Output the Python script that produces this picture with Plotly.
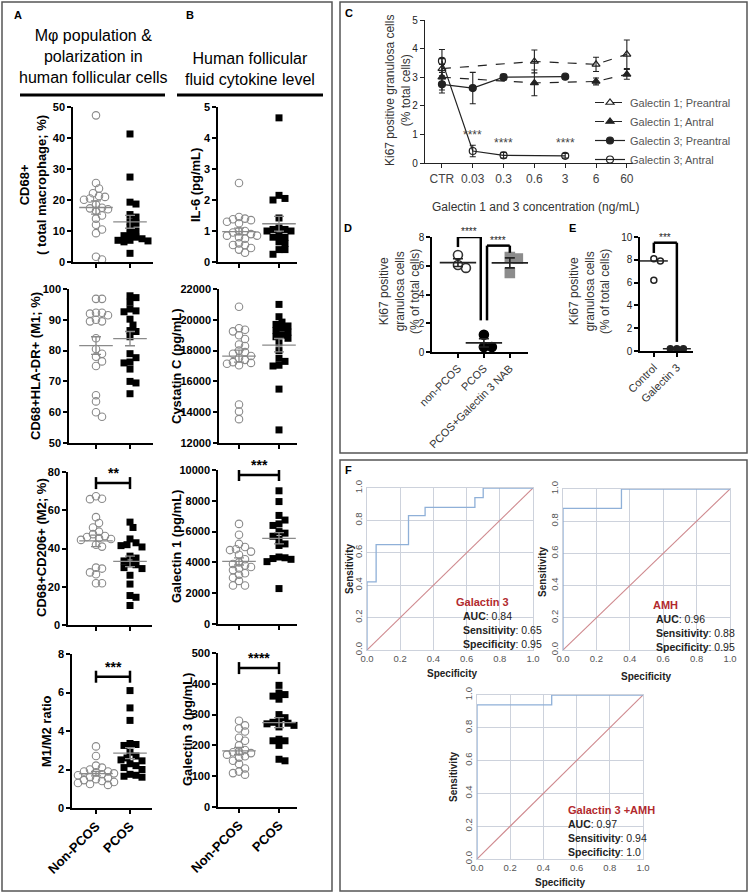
import numpy as np
import plotly.graph_objects as go

W, H = 750, 895
SANS = "Liberation Sans, Arial, sans-serif"

# ---------------- data ----------------
groups = ["Non-PCOS", "PCOS"]

cd68_non = [47.3, 25.5, 23.7, 22.2, 21.3, 21.0, 20.5, 20.1, 18.5, 17.5, 17.3, 17.0, 16.5, 15.0, 14.0, 12.0, 10.5, 9.3, 1.7, 0.8]
cd68_pcos = [41.3, 27.4, 19.3, 18.7, 15.3, 14.5, 13.0, 12.5, 11.0, 10.0, 9.0, 8.5, 8.0, 7.5, 7.0, 7.0, 6.8, 6.5, 2.8]

m1_non = [96.8, 96.8, 92.3, 92.3, 92.0, 91.5, 90.0, 89.5, 89.5, 84.0, 80.5, 79.0, 78.0, 76.5, 75.0, 65.5, 63.5, 60.0, 58.5]
m1_pcos = [97.8, 97.2, 95.7, 93.5, 92.9, 92.6, 90.2, 88.3, 86.5, 86.2, 84.5, 79.0, 77.7, 76.3, 76.0, 74.0, 70.0, 69.5, 66.0]

m2_non = [67.3, 66.0, 65.8, 56.4, 53.3, 51.0, 48.8, 47.5, 46.5, 46.0, 45.5, 45.0, 44.5, 42.0, 41.0, 30.0, 29.5, 27.5, 26.5, 21.8, 21.8]
m2_pcos = [53.8, 51.0, 45.0, 43.0, 42.0, 41.5, 40.8, 36.0, 35.0, 33.5, 32.0, 31.5, 30.0, 29.5, 26.0, 21.4, 15.4, 14.5, 10.2]

ratio_non = [3.2, 2.7, 2.2, 2.1, 2.0, 1.9, 1.9, 1.85, 1.8, 1.75, 1.7, 1.6, 1.55, 1.5, 1.45, 1.4, 1.35, 1.3, 1.25, 1.2]
ratio_pcos = [6.1, 5.2, 4.55, 3.35, 3.3, 3.25, 2.9, 2.7, 2.6, 2.5, 2.45, 2.3, 2.2, 2.1, 2.0, 1.75, 1.7, 1.65, 1.6]

il6_non = [2.55, 1.45, 1.4, 1.38, 1.35, 1.3, 1.25, 1.0, 1.0, 0.95, 0.9, 0.85, 0.85, 0.8, 0.75, 0.6, 0.55, 0.55, 0.45, 0.4, 0.3]
il6_pcos = [4.65, 2.15, 2.05, 2.0, 1.42, 1.1, 1.05, 1.05, 1.0, 1.0, 0.85, 0.8, 0.8, 0.65, 0.6, 0.4, 0.4, 0.25]

cys_non = [20850, 19450, 19350, 19250, 19000, 18750, 18400, 18300, 18000, 17900, 17800, 17650, 17500, 17400, 17250, 17200, 17150, 17050, 14500, 14050, 13550]
cys_pcos = [21000, 20200, 19850, 19700, 19600, 19450, 19300, 19200, 19000, 18900, 18800, 18500, 18000, 17500, 17300, 17050, 17000, 15500, 12850]

gal1_non = [6500, 5800, 5200, 5000, 4850, 4800, 4700, 4500, 4200, 4000, 3900, 3800, 3700, 3600, 3500, 3300, 3200, 3000, 2800, 2500, 2500]
gal1_pcos = [8650, 7950, 7050, 6750, 6500, 6400, 6000, 5900, 5700, 5500, 5200, 5100, 4350, 4300, 4250, 4200, 4050, 2300]

gal3_non = [280, 265, 255, 245, 225, 215, 200, 185, 180, 178, 175, 170, 165, 160, 150, 140, 125, 115, 110, 105]
gal3_pcos = [395, 370, 365, 360, 350, 300, 290, 280, 275, 272, 270, 265, 260, 220, 215, 215, 200, 155, 150]

# panel C
conc_labels = ["CTR", "0.03", "0.3", "0.6", "3", "6", "60"]
g1_conc = ["CTR", "0.6", "6", "60"]
g1_pre = [3.3, 3.55, 3.45, 3.8]
g1_pre_err = [0.35, 0.4, 0.25, 0.5]
g1_ant = [3.0, 2.8, 2.85, 3.1]
g1_ant_err = [0.45, 0.45, 0.12, 0.17]
g3_conc = ["CTR", "0.03", "0.3", "3"]
g3_pre = [2.75, 2.62, 3.0, 3.02]
g3_pre_err = [0.3, 0.55, 0.1, 0.0]
g3_ant = [3.57, 0.42, 0.27, 0.25]
g3_ant_err = [0.4, 0.2, 0.1, 0.08]
c_stars = ["0.03", "0.3", "3"]
c_star_y = [0.98, 0.7, 0.7]

# panel D
d_groups = ["non-PCOS", "PCOS", "PCOS+Galectin 3 NAB"]
d_non = [6.75, 6.05, 5.85]
d_pcos = [1.2, 0.35, 0.35]
d_nab = [6.6, 6.5, 5.5]

# panel E
e_groups = ["Control", "Galectin 3"]
e_ctrl = [8.1, 7.9, 6.2]
e_gal3 = [0.2, 0.2, 0.2]

# panel F
f1_fpr = [0, 0, 0.055, 0.25, 0.35, 0.65, 0.70, 1.0]
f1_tpr = [0, 0.42, 0.65, 0.83, 0.88, 0.94, 1.0, 1.0]
f2_fpr = [0, 0, 0.35, 1.0]
f2_tpr = [0, 0.88, 1.0, 1.0]
f3_fpr = [0, 0, 0.45, 1.0]
f3_tpr = [0, 0.94, 1.0, 1.0]

fig = go.Figure()
axes = {}
annots = []
shapes = []


def P(x, y):
    return x / W, 1 - y / H


def add_axes(n, xpx, ypx, xa, ya):
    s = "" if n == 1 else str(n)
    axes["xaxis" + s] = dict(domain=[xpx[0] / W, xpx[1] / W], anchor="y" + s, **xa)
    axes["yaxis" + s] = dict(domain=[1 - ypx[1] / H, 1 - ypx[0] / H], anchor="x" + s, **ya)
    return "x" + s, "y" + s


def base_axis(**kw):
    d = dict(showline=True, linecolor="black", linewidth=1.5, ticks="outside", ticklen=4,
             tickwidth=1.5, tickcolor="black", showgrid=False, zeroline=False, fixedrange=True)
    d.update(kw)
    return d


def swarm(values, ymin, ymax, hpx, unit_px, diam=6.0):
    # simple beeswarm: dodge overlapping markers sideways
    vals = np.asarray(values, float)
    ypix = (vals - ymin) / (ymax - ymin) * hpx
    offs = np.zeros(len(vals))
    placed = []
    for i in np.argsort(-vals):
        for k in range(60):
            m = (k + 1) // 2
            cand = m * diam * 0.5 * (1 if k % 2 else -1)
            if all((cand - px) ** 2 + (ypix[i] - py) ** 2 >= diam ** 2 for px, py in placed):
                break
        placed.append((cand, ypix[i]))
        offs[i] = cand / unit_px
    return offs


def ytitle(text, x, y, size=13, bold=True, color="black"):
    xx, yy = P(x, y)
    annots.append(dict(text=text, x=xx, y=yy, xref="paper", yref="paper", textangle=-90,
                       showarrow=False, xanchor="center", yanchor="middle",
                       font=dict(family=SANS, size=size, color=color, weight="bold" if bold else "normal")))


def text(t, x, y, size=12, color="black", xanchor="center", yanchor="middle", bold=False):
    xx, yy = P(x, y)
    annots.append(dict(text=t, x=xx, y=yy, xref="paper", yref="paper", showarrow=False,
                       xanchor=xanchor, yanchor=yanchor,
                       font=dict(family=SANS, size=size, color=color, weight="bold" if bold else "normal")))


def stars_at(t, x, y, xr, yr, size, color, bold=False, shift=0):
    annots.append(dict(text=t, x=x, y=y, xref=xr, yref=yr, showarrow=False, yanchor="bottom", yshift=shift,
                       font=dict(family=SANS, size=size, color=color, weight="bold" if bold else "normal")))


def mean_sem(vals):
    v = np.asarray(vals, float)
    return v.mean(), v.std(ddof=1) / np.sqrt(len(v))


# ---------------- panels A & B ----------------
ab_panels = [
    dict(non=cd68_non, pcos=cd68_pcos, yr=[0, 50], dt=10, title="CD68+<br>( total macrophage; %)",
         xpx=(73, 153), ypx=(107, 262), tx=(96, 130), tpos=(33, 185), sig=None, bottom=False),
    dict(non=m1_non, pcos=m1_pcos, yr=[50, 100], dt=10, title="CD68+HLA-DR+ (M1; %)",
         xpx=(69, 153), ypx=(289, 443), tx=(96, 130), tpos=(35, 366), sig=None, bottom=False),
    dict(non=m2_non, pcos=m2_pcos, yr=[0, 80], dt=20, title="CD68+CD206+ (M2; %)",
         xpx=(68, 152), ypx=(472, 625), tx=(96, 130), tpos=(41, 548), sig=("**", 74.2), bottom=False),
    dict(non=ratio_non, pcos=ratio_pcos, yr=[0, 8], dt=2, title="M1/M2 ratio",
         xpx=(72, 152), ypx=(654, 808), tx=(96, 130), tpos=(46, 731), sig=("***", 6.82), bottom=True),
    dict(non=il6_non, pcos=il6_pcos, yr=[0, 5], dt=1, title="IL-6 (pg/mL)",
         xpx=(218, 297), ypx=(107, 262), tx=(239, 279), tpos=(195, 185), sig=None, bottom=False),
    dict(non=cys_non, pcos=cys_pcos, yr=[12000, 22000], dt=2000, title="Cystatin C (pg/mL)",
         xpx=(219, 297), ypx=(289, 443), tx=(239, 279), tpos=(176, 366), sig=None, bottom=False),
    dict(non=gal1_non, pcos=gal1_pcos, yr=[0, 10000], dt=2000, title="Galectin 1 (pg/mL)",
         xpx=(218, 297), ypx=(470, 624), tx=(239, 279), tpos=(176, 547), sig=("***", 9675), bottom=False),
    dict(non=gal3_non, pcos=gal3_pcos, yr=[0, 500], dt=100, title="Galectin 3 (pg/mL)",
         xpx=(218, 297), ypx=(653, 807), tx=(239, 279), tpos=(187, 730), sig=("****", 451), bottom=True),
]

for i, p in enumerate(ab_panels):
    n = i + 1
    unit = p["tx"][1] - p["tx"][0]
    x0 = -(p["tx"][0] - p["xpx"][0]) / unit
    x1 = 1 + (p["xpx"][1] - p["tx"][1]) / unit
    xa = base_axis(range=[x0, x1], tickvals=[0, 1], ticktext=groups,
                   showticklabels=p["bottom"], tickangle=-45,
                   tickfont=dict(family=SANS, size=13, color="black", weight="bold"))
    ya = base_axis(range=p["yr"], dtick=p["dt"], tickformat="d",
                   tickfont=dict(family=SANS, size=11, color="black", weight="bold"))
    xr, yr = add_axes(n, p["xpx"], p["ypx"], xa, ya)
    hpx = p["ypx"][1] - p["ypx"][0]
    off_n = swarm(p["non"], p["yr"][0], p["yr"][1], hpx, unit)
    off_p = swarm(p["pcos"], p["yr"][0], p["yr"][1], hpx, unit)
    fig.add_trace(go.Scatter(x=0 + off_n, y=p["non"], mode="markers", xaxis=xr, yaxis=yr,
                             marker=dict(symbol="circle-open", size=7.5, color="#8a8a8a", line=dict(width=1.1)),
                             showlegend=False, cliponaxis=False))
    fig.add_trace(go.Scatter(x=1 + off_p, y=p["pcos"], mode="markers", xaxis=xr, yaxis=yr,
                             marker=dict(symbol="square", size=7, color="black"),
                             showlegend=False, cliponaxis=False))
    ms = [mean_sem(p["non"]), mean_sem(p["pcos"])]
    fig.add_trace(go.Scatter(x=[0, 1], y=[m for m, s in ms], mode="markers", xaxis=xr, yaxis=yr,
                             marker=dict(symbol="line-ew", size=24, line=dict(width=1.3, color="#8a8a8a")),
                             error_y=dict(type="data", array=[s for m, s in ms], width=5, thickness=1.3, color="#8a8a8a"),
                             showlegend=False, cliponaxis=False))
    tx, ty = p["tpos"]
    ytitle(p["title"], tx, ty)
    if p["sig"]:
        stars, by = p["sig"]
        cap = 6 / hpx * (p["yr"][1] - p["yr"][0])
        for seg in ([0, by, 1, by], [0, by - cap, 0, by + cap], [1, by - cap, 1, by + cap]):
            shapes.append(dict(type="line", xref=xr, yref=yr, x0=seg[0], y0=seg[1], x1=seg[2], y1=seg[3],
                               line=dict(color="black", width=2.5)))
        stars_at(stars, 0.5, by, xr, yr, 14, "black", bold=True, shift=0)

# headers
text("Mφ population &amp;<br>polarization in<br>human follicular cells", 93, 57, size=16)
text("Human follicular<br>fluid cytokine level", 250, 69, size=16)
shapes.append(dict(type="line", xref="paper", yref="paper", x0=20 / W, x1=165 / W, y0=1 - 95 / H, y1=1 - 95 / H,
                   line=dict(color="black", width=3)))
shapes.append(dict(type="line", xref="paper", yref="paper", x0=177 / W, x1=323 / W, y0=1 - 95 / H, y1=1 - 95 / H,
                   line=dict(color="black", width=3)))

# ---------------- panel C ----------------
xr, yr = add_axes(9, (425, 633), (20, 163),
                  base_axis(type="category", categoryorder="array", categoryarray=conc_labels, range=[-0.55, 6.2],
                            tickfont=dict(family=SANS, size=12, color="#444"), linewidth=1.2, tickwidth=1.2,
                            linecolor="#222", tickcolor="#222"),
                  base_axis(range=[0, 5], dtick=1, tickfont=dict(family=SANS, size=10, color="#222"),
                            linewidth=1.2, tickwidth=1.2, linecolor="#222", tickcolor="#222"))
c_series = [
    ("Galectin 1; Preantral", g1_conc, g1_pre, g1_pre_err, "triangle-up-open", "dash"),
    ("Galectin 1; Antral", g1_conc, g1_ant, g1_ant_err, "triangle-up", "dash"),
    ("Galectin 3; Preantral", g3_conc, g3_pre, g3_pre_err, "circle", "solid"),
    ("Galectin 3; Antral", g3_conc, g3_ant, g3_ant_err, "circle-open", "solid"),
]
for name, xs, ys, es, sym, dash in c_series:
    fig.add_trace(go.Scatter(x=xs, y=ys, name=name, mode="lines+markers", xaxis=xr, yaxis=yr,
                             line=dict(color="#222", width=1.2, dash=dash),
                             marker=dict(symbol=sym, size=7, color="#222", line=dict(width=1.2, color="#222")),
                             error_y=dict(type="data", array=es, width=3, thickness=1.1, color="#222"),
                             cliponaxis=False))
for c, y in zip(c_stars, c_star_y):
    annots.append(dict(text="****", x=conc_labels.index(c), y=y, xref=xr, yref=yr, showarrow=False,
                       font=dict(family=SANS, size=12, color="#444")))
ytitle("Ki67 positive granulosa cells<br>(% total cells)", 398, 90, size=12, bold=False, color="#333")
text("Galectin 1 and 3 concentration (ng/mL)", 535, 207, size=12, color="#333")

# ---------------- panel D ----------------
xr, yr = add_axes(10, (432, 528), (237, 352),
                  base_axis(range=[-1.0, 2.7], tickvals=[0, 1, 2], ticktext=d_groups, tickangle=-45,
                            tickfont=dict(family=SANS, size=11, color="#333")),
                  base_axis(range=[0, 8], dtick=2, tickfont=dict(family=SANS, size=10, color="#222")))
d_sets = [(0, d_non, "circle-open", "#333"), (1, d_pcos, "circle", "black"), (2, d_nab, "square", "#8c8c8c")]
for xc, vals, sym, col in d_sets:
    off = swarm(vals, 0, 8, 115, 26, diam=8)
    fig.add_trace(go.Scatter(x=xc + off, y=vals, mode="markers", xaxis=xr, yaxis=yr, showlegend=False,
                             marker=dict(symbol=sym, size=9, color=col, line=dict(width=1.6, color=col)),
                             cliponaxis=False))
    m, s = mean_sem(vals)
    fig.add_trace(go.Scatter(x=[xc], y=[m], mode="markers", xaxis=xr, yaxis=yr, showlegend=False,
                             marker=dict(symbol="line-ew", size=26, line=dict(width=1.6, color="#222")),
                             error_y=dict(type="data", array=[s], width=5, thickness=1.6, color="#222"),
                             cliponaxis=False))
for pts in ([(0, 7.3), (0, 8.0), (0.88, 8.0), (0.88, 2.2)], [(1.12, 2.2), (1.12, 7.4), (2, 7.4), (2, 6.9)]):
    for a, b in zip(pts[:-1], pts[1:]):
        shapes.append(dict(type="line", xref=xr, yref=yr, x0=a[0], y0=a[1], x1=b[0], y1=b[1],
                           line=dict(color="black", width=2.5)))
stars_at("****", 0.44, 8.0, xr, yr, 10, "#222", shift=-2)
stars_at("****", 1.56, 7.4, xr, yr, 10, "#222", shift=-2)
ytitle("Ki67 positive<br>granulosa cells<br>(% of total cells)", 399, 292, size=12, bold=False, color="#333")

# ---------------- panel E ----------------
xr, yr = add_axes(11, (640, 693), (237, 351),
                  base_axis(range=[-0.6, 1.7], tickvals=[0, 1], ticktext=e_groups, tickangle=-45,
                            tickfont=dict(family=SANS, size=11, color="#333")),
                  base_axis(range=[0, 10], dtick=2, tickfont=dict(family=SANS, size=10, color="#222")))
for xc, vals, sym in [(0, e_ctrl, "circle-open"), (1, e_gal3, "circle")]:
    off = swarm(vals, 0, 10, 114, 23, diam=6.5)
    fig.add_trace(go.Scatter(x=xc + off, y=vals, mode="markers", xaxis=xr, yaxis=yr, showlegend=False,
                             marker=dict(symbol=sym, size=6, color="#222", line=dict(width=1.5, color="#222")),
                             cliponaxis=False))
    fig.add_trace(go.Scatter(x=[xc], y=[np.median(vals)], mode="markers", xaxis=xr, yaxis=yr, showlegend=False,
                             marker=dict(symbol="line-ew", size=20, line=dict(width=1.5, color="#222")),
                             cliponaxis=False))
for a, b in [((0, 8.6), (0, 9.5)), ((0, 9.5), (1, 9.5)), ((1, 9.5), (1, 0.8))]:
    shapes.append(dict(type="line", xref=xr, yref=yr, x0=a[0], y0=a[1], x1=b[0], y1=b[1],
                       line=dict(color="black", width=2.5)))
stars_at("***", 0.5, 9.5, xr, yr, 10, "#222", shift=-2)
ytitle("Ki67 positive<br>granulosa cells<br>(% of total cells)", 589, 292, size=12, bold=False, color="#333")

# ---------------- panel F ----------------
f_panels = [
    (12, (367, 533), (488, 650), f1_fpr, f1_tpr, ["Galactin 3", "0.84", "0.65", "0.95"], (461, 602), (349, 569), (452, 673)),
    (13, (563, 730), (489, 650), f2_fpr, f2_tpr, ["AMH", "0.96", "0.88", "0.95"], (654, 605), (542, 572), (646, 676)),
    (14, (477, 643), (695, 859), f3_fpr, f3_tpr, ["Galactin 3 +AMH", "0.97", "0.94", "1.0"], (566, 810), (453, 777), (560, 882)),
]
for n, xpx, ypx, fpr, tpr, lab, tpos, stp, spp in f_panels:
    grid = dict(range=[0, 1], dtick=0.2, tickformat=".1f", showgrid=True, gridcolor="#cdd2dc", gridwidth=1,
                showline=True, mirror=True, linecolor="#cdd2dc", linewidth=1, zeroline=False, ticks="",
                fixedrange=True, tickfont=dict(family=SANS, size=9.5, color="#555"))
    ygrid = dict(grid, tickangle=-90)
    xr, yr = add_axes(n, xpx, ypx, grid, ygrid)
    fig.add_trace(go.Scatter(x=[0, 1], y=[0, 1], mode="lines", xaxis=xr, yaxis=yr, showlegend=False,
                             line=dict(color="#cf8a8f", width=1.1)))
    fig.add_trace(go.Scatter(x=fpr, y=tpr, mode="lines", xaxis=xr, yaxis=yr, showlegend=False,
                             line=dict(color="#8fb0d8", width=1.3, shape="hv"), cliponaxis=False))
    x0, y0 = tpos
    if n == 14:
        text(lab[0], x0, y0, size=11, color="#b22a2e", xanchor="left", bold=True)
    else:
        text(lab[0], x0 + 21 if n == 12 else x0 + 11, y0, size=11, color="#b22a2e", bold=True)
    for k, (key, val) in enumerate(zip(["AUC", "Sensitivity", "Specificity"], lab[1:])):
        text("<b>%s</b>: %s" % (key, val), x0, y0 + 14 * (k + 1), size=10.5, color="#222", xanchor="left")
    ytitle("Sensitivity", stp[0], stp[1], size=10, color="#222")
    text("Specificity", spp[0], spp[1], size=10, color="#222", bold=True)

# panel letters
for letter, x, y in [("A", 18, 15), ("B", 190, 15), ("C", 349, 13), ("D", 348, 228), ("E", 572, 228), ("F", 348, 470)]:
    text(letter, x, y, size=11, bold=True)

# frames
for x0, y0, x1, y1 in [(2, 2, 332, 891), (340, 2, 747, 453), (340, 460, 747, 891)]:
    shapes.append(dict(type="rect", xref="paper", yref="paper", x0=x0 / W, x1=x1 / W, y0=1 - y1 / H, y1=1 - y0 / H,
                       line=dict(color="#555", width=1.5)))

fig.update_layout(
    width=W, height=H, margin=dict(l=0, r=0, t=0, b=0, autoexpand=False),
    paper_bgcolor="white", plot_bgcolor="white",
    annotations=annots, shapes=shapes,
    legend=dict(x=590 / W, y=1 - 88 / H, xanchor="left", yanchor="top", bgcolor="rgba(0,0,0,0)",
                font=dict(family=SANS, size=11, color="#555"), tracegroupgap=0, itemwidth=30),
    **axes,
)
# page body has a default 8px margin; drop it so the figure sits at the window origin
fig.write_html("out.html", config={"displayModeBar": False},
               post_script="document.body.style.margin='0px';")
